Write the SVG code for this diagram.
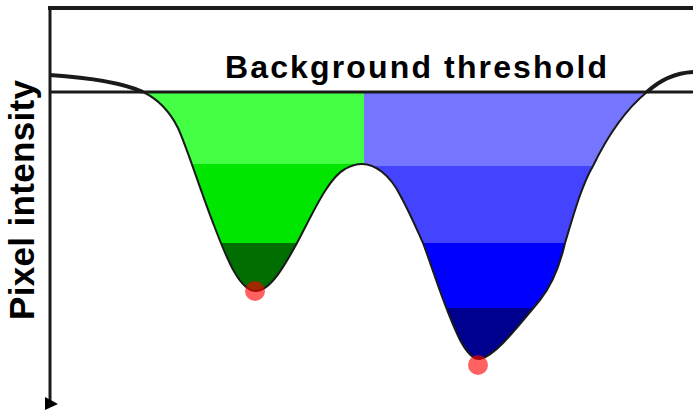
<svg xmlns="http://www.w3.org/2000/svg" width="693" height="411" viewBox="0 0 693 411">
<style>
.lbl{font-family:"Liberation Sans",Arial,sans-serif;font-weight:bold;fill:#000}
.ax{stroke:#1a1a1a;fill:none}
.dot{fill:#ff0000;fill-opacity:0.62}
</style>
<defs>
<clipPath id="valley">
<path d="M143,92 C160,100 170,112 178,128 C188,150 200,190 215,228 C228,262 240,290 255,291 C270,292 285,265 297,243 C312,215 328,178 345,169 C352,165 358,164 362,164 C375,164 390,175 400,195 C410,213 417,230 423,243 C435,275 445,310 460,340 C468,355 474,360 480,359 C495,356 515,330 540,300 C552,285 560,265 565,243 C575,210 582,185 593,166 C608,135 625,110 647,92 Z"/>
</clipPath>
</defs>
<rect width="693" height="411" fill="#fff"/>
<g id="bands" clip-path="url(#valley)">
<rect x="100" y="90" width="264" height="74" fill="#44ff44"/>
<rect x="100" y="164" width="264" height="79" fill="#00e600"/>
<rect x="100" y="243" width="264" height="70" fill="#006e00"/>
<rect x="364" y="90" width="320" height="76" fill="#7575ff"/>
<rect x="364" y="166" width="320" height="77" fill="#4444ff"/>
<rect x="364" y="243" width="320" height="65" fill="#0000ff"/>
<rect x="364" y="308" width="320" height="70" fill="#00008f"/>
</g>
<g id="axes">
<line class="ax" x1="48" y1="8" x2="693" y2="8" stroke-width="4"/>
<line class="ax" x1="50" y1="6" x2="50" y2="402" stroke-width="3"/>
<polygon points="45,397 58,404 45,410" fill="#000"/>
<line class="ax" x1="50" y1="92" x2="693" y2="92" stroke-width="3"/>
</g>
<g id="connectors">
<path class="ax" stroke-width="4" d="M50,75 C95,78 125,84 143,92"/>
<path class="ax" stroke-width="2" d="M143,92 C160,100 170,112 178,128 C188,150 200,190 215,228 C228,262 240,290 255,291 C270,292 285,265 297,243 C312,215 328,178 345,169 C352,165 358,164 362,164 C375,164 390,175 400,195 C410,213 417,230 423,243 C435,275 445,310 460,340 C468,355 474,360 480,359 C495,356 515,330 540,300 C552,285 560,265 565,243 C575,210 582,185 593,166 C608,135 625,110 647,92"/>
<path class="ax" stroke-width="4" d="M647,92 C660,80 675,73 693,72"/>
</g>
<g id="minima">
<circle class="dot" cx="255" cy="291" r="10"/>
<circle class="dot" cx="478" cy="365" r="10"/>
</g>
<g id="title">
<text class="lbl" x="416" y="78" font-size="32" text-anchor="middle" textLength="382" lengthAdjust="spacing">Background threshold</text>
</g>
<g id="ylabel">
<text class="lbl" transform="translate(34,200) rotate(-90)" x="0" y="0" font-size="35" text-anchor="middle" textLength="240" lengthAdjust="spacing">Pixel intensity</text>
</g>
</svg>
